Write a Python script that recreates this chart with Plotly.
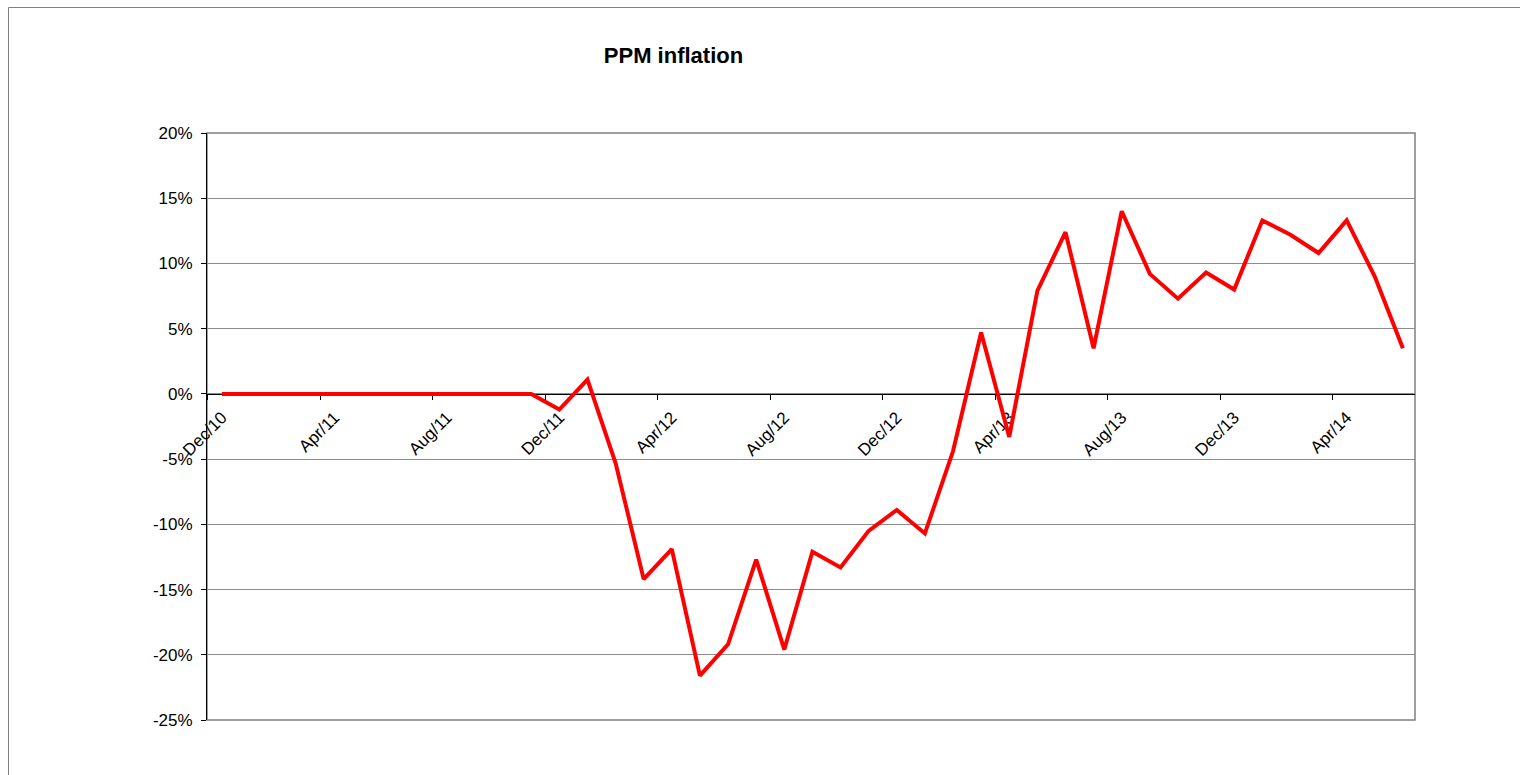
import plotly.graph_objects as go

months = ["Dec/10", "Jan/11", "Feb/11", "Mar/11", "Apr/11", "May/11", "Jun/11", "Jul/11",
          "Aug/11", "Sep/11", "Oct/11", "Nov/11", "Dec/11", "Jan/12", "Feb/12", "Mar/12",
          "Apr/12", "May/12", "Jun/12", "Jul/12", "Aug/12", "Sep/12", "Oct/12", "Nov/12",
          "Dec/12", "Jan/13", "Feb/13", "Mar/13", "Apr/13", "May/13", "Jun/13", "Jul/13",
          "Aug/13", "Sep/13", "Oct/13", "Nov/13", "Dec/13", "Jan/14", "Feb/14", "Mar/14",
          "Apr/14", "May/14", "Jun/14"]

inflation_pct = [0, 0, 0, 0, 0, 0, 0, 0, 0, 0, 0, 0,
                 -1.2, 1.1, -5.3, -14.2, -11.9, -21.6, -19.2, -12.7, -19.6, -12.1,
                 -13.3, -10.5, -8.9, -10.7, -4.4, 4.7, -3.3, 7.9, 12.4, 3.5,
                 14.0, 9.2, 7.3, 9.3, 8.0, 13.3, 12.2, 10.8, 13.3, 9.0, 3.5]

label_months = ["Dec/10", "Apr/11", "Aug/11", "Dec/11", "Apr/12", "Aug/12",
                "Dec/12", "Apr/13", "Aug/13", "Dec/13", "Apr/14"]

y_ticks = [-25, -20, -15, -10, -5, 0, 5, 10, 15, 20]
y_tick_text = [f"{v}%" for v in y_ticks]

x_idx = list(range(len(months)))
label_idx = [months.index(m) for m in label_months]
boundary_idx = [i - 0.5 for i in label_idx]

W, H = 1520, 775
L, R, T, B = 207, 105, 133, 55
pw, ph = W - L - R, H - T - B

ymin, ymax = y_ticks[0], y_ticks[-1]

fig = go.Figure()
fig.add_trace(go.Scatter(
    x=x_idx, y=inflation_pct, mode="lines",
    line=dict(color="#FF0000", width=4),
    name="PPM inflation", hoverinfo="skip",
))

font_family = "Liberation Sans, Arial, sans-serif"

fig.update_layout(
    width=W, height=H,
    margin=dict(l=L, r=R, t=T, b=B),
    paper_bgcolor="white", plot_bgcolor="white",
    showlegend=False,
    font=dict(family=font_family, color="black", size=17),
    title=dict(text="<b>PPM inflation</b>", x=673.5 / W, xref="container", xanchor="center",
               y=1 - 55 / H, yref="container", yanchor="middle",
               font=dict(family=font_family, size=22, color="black")),
    xaxis=dict(
        range=[-0.53, len(months) - 0.57],
        anchor="free", position=(0 - ymin) / (ymax - ymin),
        showline=True, linecolor="black", linewidth=1,
        showgrid=False, zeroline=False,
        tickmode="array", tickvals=label_idx, ticktext=label_months,
        ticks="", tickangle=-45,
        tickfont=dict(size=17),
        ticklabelstandoff=6,
        minor=dict(tickmode="array", tickvals=boundary_idx, ticks="outside",
                   ticklen=5, tickcolor="black", tickwidth=1, showgrid=False),
        layer="below traces",
    ),
    yaxis=dict(
        range=[ymin, ymax],
        tickmode="array", tickvals=y_ticks, ticktext=y_tick_text,
        showgrid=True, gridcolor="#8c8c8c", gridwidth=1,
        zeroline=False,
        showline=True, linecolor="black", linewidth=1,
        ticks="outside", ticklen=5, tickcolor="black",
        tickfont=dict(size=17),
        ticklabelstandoff=5,
        layer="below traces",
    ),
)

# plot area frame (grey)
fig.add_shape(type="rect", xref="paper", yref="paper", x0=0, x1=1, y0=0, y1=1,
              line=dict(color="#808080", width=1.5), layer="below")

# outer chart border (top and left visible)
bx = (8.5 - L) / pw
by = 1 + (T - 7.5) / ph
fig.add_shape(type="line", xref="paper", yref="paper", x0=bx, x1=1.5, y0=by, y1=by,
              line=dict(color="#808080", width=1))
fig.add_shape(type="line", xref="paper", yref="paper", x0=bx, x1=bx, y0=-0.5, y1=by,
              line=dict(color="#808080", width=1))

fig.write_html("out.html")
